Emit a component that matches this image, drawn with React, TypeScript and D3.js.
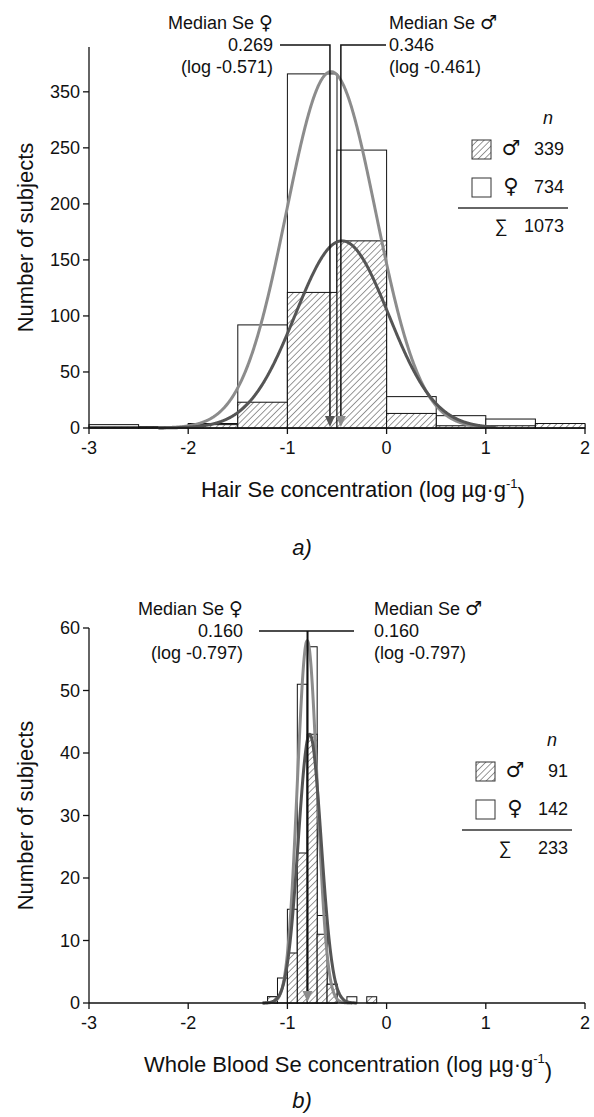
import React from 'react';
import * as d3 from 'd3';

// ---------- Panel a) Hair ----------
const binStartsA = [-3, -2.5, -2, -1.5, -1, -0.5, 0, 0.5, 1, 1.5];
const binWidthA = 0.5;
const femaleA = [3, 1, 4, 92, 316, 248, 28, 11, 8, 3];
const maleA = [1, 1, 3, 23, 121, 167, 13, 2, 2, 4];
const yTicksA = [0, 50, 100, 150, 200, 250, 300];
const yTickLabelsA = ['0', '50', '100', '150', '200', '250', '350'];
const fitFemaleA = { mean: -0.56, sd: 0.45, peak: 318, from: -2.3, to: 1.1 };
const fitMaleA = { mean: -0.45, sd: 0.47, peak: 167, from: -2.3, to: 1.1 };
const medianFemaleA = { log: -0.571, value: '0.269', logText: '(log -0.571)' };
const medianMaleA = { log: -0.461, value: '0.346', logText: '(log -0.461)' };
const legendA = { male: '339', female: '734', total: '1073' };

// ---------- Panel b) Whole blood ----------
const binStartsB = [-1.2, -1.1, -1.0, -0.9, -0.8, -0.7, -0.6, -0.4, -0.2];
const binWidthB = 0.1;
const femaleB = [1, 4, 15, 51, 57, 14, 3, 1, 0];
const maleB = [1, 0, 8, 24, 43, 11, 3, 0, 1];
const yTicksB = [0, 10, 20, 30, 40, 50, 60];
const yTickLabelsB = ['0', '10', '20', '30', '40', '50', '60'];
const fitFemaleB = { mean: -0.8, sd: 0.1, peak: 58, from: -1.25, to: -0.35 };
const fitMaleB = { mean: -0.775, sd: 0.115, peak: 43, from: -1.25, to: -0.3 };
const medianFemaleB = { log: -0.797, value: '0.160', logText: '(log -0.797)' };
const medianMaleB = { log: -0.797, value: '0.160', logText: '(log -0.797)' };
const legendB = { male: '91', female: '142', total: '233' };

const xTicks = [-3, -2, -1, 0, 1, 2];
const xTickLabels = ['-3', '-2', '-1', '0', '1', '2'];

const FONT = "'Liberation Sans', Arial, Helvetica, sans-serif";
const SYMBOL_FONT = "'DejaVu Sans', sans-serif";
const FEMALE_CURVE = '#8c8c8c';
const MALE_CURVE = '#555555';

type Fit = { mean: number; sd: number; peak: number; from: number; to: number };

function curvePoints(f: Fit): [number, number][] {
  const xs = d3.range(f.from, f.to + 1e-9, 0.005);
  return xs.map((x) => [x, f.peak * Math.exp(-((x - f.mean) ** 2) / (2 * f.sd * f.sd))]);
}

type PanelProps = {
  top: number;
  bottom: number;
  yMax: number;
  yTicks: number[];
  yTickLabels: string[];
  binStarts: number[];
  binWidth: number;
  female: number[];
  male: number[];
  fitF: Fit;
  fitM: Fit;
  medF: { log: number; value: string; logText: string };
  medM: { log: number; value: string; logText: string };
  lineY: number;
  femaleTextX: number;
  maleTextX: number;
  femaleLineStart: number;
  maleLineEnd: number;
  singleMedian: boolean;
  legend: { male: string; female: string; total: string };
  legendY: number;
  legendX: number;
  xTitle: string;
  xTitleX: number;
  label: string;
  labelY: number;
};

const xScale = d3.scaleLinear().domain([-3, 2]).range([89, 585]);

function Sym({ c, size = 19 }: { c: string; size?: number }) {
  return (
    <tspan fontFamily={SYMBOL_FONT} fontSize={size}>
      {c}
    </tspan>
  );
}

function Panel(p: PanelProps) {
  const y = d3.scaleLinear().domain([0, p.yMax]).range([p.bottom, p.top]);
  const line = d3
    .line<[number, number]>()
    .x((d) => xScale(d[0]))
    .y((d) => y(d[1]))
    .curve(d3.curveBasis);
  const x0 = xScale(-3);
  const x1 = xScale(2);
  const xf = xScale(p.medF.log);
  const xm = xScale(p.medM.log);
  const lg = p.legendY;
  const lx = p.legendX;
  return (
    <g fontFamily={FONT} fill="#111">
      {p.binStarts.map((b, i) =>
        p.female[i] > 0 ? (
          <rect
            key={'f' + i}
            x={xScale(b)}
            y={y(p.female[i])}
            width={xScale(b + p.binWidth) - xScale(b)}
            height={p.bottom - y(p.female[i])}
            fill="#fff"
            stroke="#111"
            strokeWidth={1}
          />
        ) : null
      )}
      {p.binStarts.map((b, i) =>
        p.male[i] > 0 ? (
          <rect
            key={'m' + i}
            x={xScale(b)}
            y={y(p.male[i])}
            width={xScale(b + p.binWidth) - xScale(b)}
            height={p.bottom - y(p.male[i])}
            fill="url(#hatch)"
            stroke="#111"
            strokeWidth={1}
          />
        ) : null
      )}
      <path d={line(curvePoints(p.fitF)) || ''} fill="none" stroke={FEMALE_CURVE} strokeWidth={3} />
      <path d={line(curvePoints(p.fitM)) || ''} fill="none" stroke={MALE_CURVE} strokeWidth={3} />

      <line x1={x0} x2={x0} y1={p.top} y2={p.bottom} stroke="#111" strokeWidth={1.3} />
      <line x1={x0} x2={x1} y1={p.bottom} y2={p.bottom} stroke="#111" strokeWidth={1.3} />
      {p.yTicks.map((t, i) => (
        <g key={'yt' + i}>
          <line x1={x0 - 6} x2={x0} y1={y(t)} y2={y(t)} stroke="#111" strokeWidth={1.3} />
          <text x={x0 - 9} y={y(t)} dy="0.36em" textAnchor="end" fontSize={18}>
            {p.yTickLabels[i]}
          </text>
        </g>
      ))}
      {xTicks.map((t, i) => (
        <g key={'xt' + i}>
          <line x1={xScale(t)} x2={xScale(t)} y1={p.bottom} y2={p.bottom + 6} stroke="#111" strokeWidth={1.3} />
          <text x={xScale(t)} y={p.bottom + 20} dy="0.36em" textAnchor="middle" fontSize={18}>
            {xTickLabels[i]}
          </text>
        </g>
      ))}
      <text
        transform={`translate(25,${(p.top + p.bottom) / 2}) rotate(-90)`}
        textAnchor="middle"
        dy="0.36em"
        fontSize={22}
      >
        Number of subjects
      </text>
      <text x={p.xTitleX} y={p.bottom + 61} dy="0.36em" textAnchor="middle" fontSize={22}>
        {p.xTitle} (log µg·g
        <tspan fontSize={13} dy="-0.7em">-1</tspan>
        <tspan dy="0.7em">)</tspan>
      </text>
      <text x={302} y={p.labelY} dy="0.36em" textAnchor="middle" fontSize={22} fontStyle="italic">
        {p.label}
      </text>

      {p.singleMedian ? (
        <g>
          <line x1={p.femaleLineStart} x2={p.maleLineEnd} y1={p.lineY} y2={p.lineY} stroke="#111" strokeWidth={1.4} />
          <line x1={xf} x2={xf} y1={p.lineY} y2={p.bottom - 10} stroke="#111" strokeWidth={2} />
          <path d={`M${xf - 5},${p.bottom - 12}L${xf + 5},${p.bottom - 12}L${xf},${p.bottom - 1}Z`} fill={FEMALE_CURVE} />
        </g>
      ) : (
        <g>
          <polyline
            points={`${p.femaleLineStart},${p.lineY} ${xf},${p.lineY} ${xf},${p.bottom - 10}`}
            fill="none"
            stroke="#111"
            strokeWidth={1.5}
          />
          <polyline
            points={`${p.maleLineEnd},${p.lineY} ${xm},${p.lineY} ${xm},${p.bottom - 10}`}
            fill="none"
            stroke="#111"
            strokeWidth={1.5}
          />
          <path d={`M${xf - 5},${p.bottom - 12}L${xf + 5},${p.bottom - 12}L${xf},${p.bottom - 1}Z`} fill={MALE_CURVE} />
          <path d={`M${xm - 5},${p.bottom - 12}L${xm + 5},${p.bottom - 12}L${xm},${p.bottom - 1}Z`} fill={FEMALE_CURVE} />
        </g>
      )}
      <g fontSize={18}>
        <text x={p.femaleTextX} y={p.lineY - 22} dy="0.36em" textAnchor="end">
          Median Se <Sym c="♀" />
        </text>
        <text x={p.femaleTextX} y={p.lineY} dy="0.36em" textAnchor="end">
          {p.medF.value}
        </text>
        <text x={p.femaleTextX} y={p.lineY + 22} dy="0.36em" textAnchor="end">
          {p.medF.logText}
        </text>
        <text x={p.maleTextX} y={p.lineY - 22} dy="0.36em">
          Median Se <Sym c="♂" />
        </text>
        <text x={p.maleTextX} y={p.lineY} dy="0.36em">
          {p.medM.value}
        </text>
        <text x={p.maleTextX} y={p.lineY + 22} dy="0.36em">
          {p.medM.logText}
        </text>
      </g>

      <g fontSize={18}>
        <text x={lx + 76} y={lg} dy="0.36em" textAnchor="middle" fontStyle="italic">
          n
        </text>
        <rect x={lx} y={lg + 22} width={19} height={19} fill="url(#hatch)" stroke="#333" strokeWidth={1} />
        <text x={lx + 39} y={lg + 31} dy="0.36em" textAnchor="middle">
          <Sym c="♂" size={21} />
        </text>
        <text x={lx + 92} y={lg + 31} dy="0.36em" textAnchor="end">
          {p.legend.male}
        </text>
        <rect x={lx} y={lg + 60} width={19} height={19} fill="#fff" stroke="#333" strokeWidth={1} />
        <text x={lx + 39} y={lg + 69} dy="0.36em" textAnchor="middle">
          <Sym c="♀" size={21} />
        </text>
        <text x={lx + 92} y={lg + 69} dy="0.36em" textAnchor="end">
          {p.legend.female}
        </text>
        <line x1={lx - 14} x2={lx + 96} y1={lg + 90} y2={lg + 90} stroke="#333" strokeWidth={1.3} />
        <text x={lx + 29} y={lg + 108} dy="0.36em" textAnchor="middle">
          ∑
        </text>
        <text x={lx + 92} y={lg + 108} dy="0.36em" textAnchor="end">
          {p.legend.total}
        </text>
      </g>
    </g>
  );
}

export default function App() {
  return (
    <svg
      width={594}
      height={1117}
      viewBox="0 0 594 1117"
      style={{ position: 'absolute', left: 0, top: 0, display: 'block', background: '#fff' }}
    >
      <defs>
        <pattern id="hatch" patternUnits="userSpaceOnUse" width={4.5} height={4.5} patternTransform="rotate(45)">
          <rect width={4.5} height={4.5} fill="#fff" />
          <line x1={0} y1={0} x2={0} y2={4.5} stroke="#333" strokeWidth={1} />
        </pattern>
      </defs>
      <rect width={594} height={1117} fill="#fff" />
      <Panel
        top={47}
        bottom={428}
        yMax={340}
        yTicks={yTicksA}
        yTickLabels={yTickLabelsA}
        binStarts={binStartsA}
        binWidth={binWidthA}
        female={femaleA}
        male={maleA}
        fitF={fitFemaleA}
        fitM={fitMaleA}
        medF={medianFemaleA}
        medM={medianMaleA}
        lineY={45}
        femaleTextX={273}
        maleTextX={389}
        femaleLineStart={280}
        maleLineEnd={386}
        singleMedian={false}
        legend={legendA}
        legendY={118}
        legendX={472}
        xTitle="Hair Se concentration"
        xTitleX={363}
        label="a)"
        labelY={547}
      />
      <Panel
        top={628}
        bottom={1003}
        yMax={60}
        yTicks={yTicksB}
        yTickLabels={yTickLabelsB}
        binStarts={binStartsB}
        binWidth={binWidthB}
        female={femaleB}
        male={maleB}
        fitF={fitFemaleB}
        fitM={fitMaleB}
        medF={medianFemaleB}
        medM={medianMaleB}
        lineY={631}
        femaleTextX={243}
        maleTextX={374}
        femaleLineStart={259}
        maleLineEnd={354}
        singleMedian={true}
        legend={legendB}
        legendY={740}
        legendX={476}
        xTitle="Whole Blood Se concentration"
        xTitleX={348}
        label="b)"
        labelY={1100}
      />
    </svg>
  );
}
